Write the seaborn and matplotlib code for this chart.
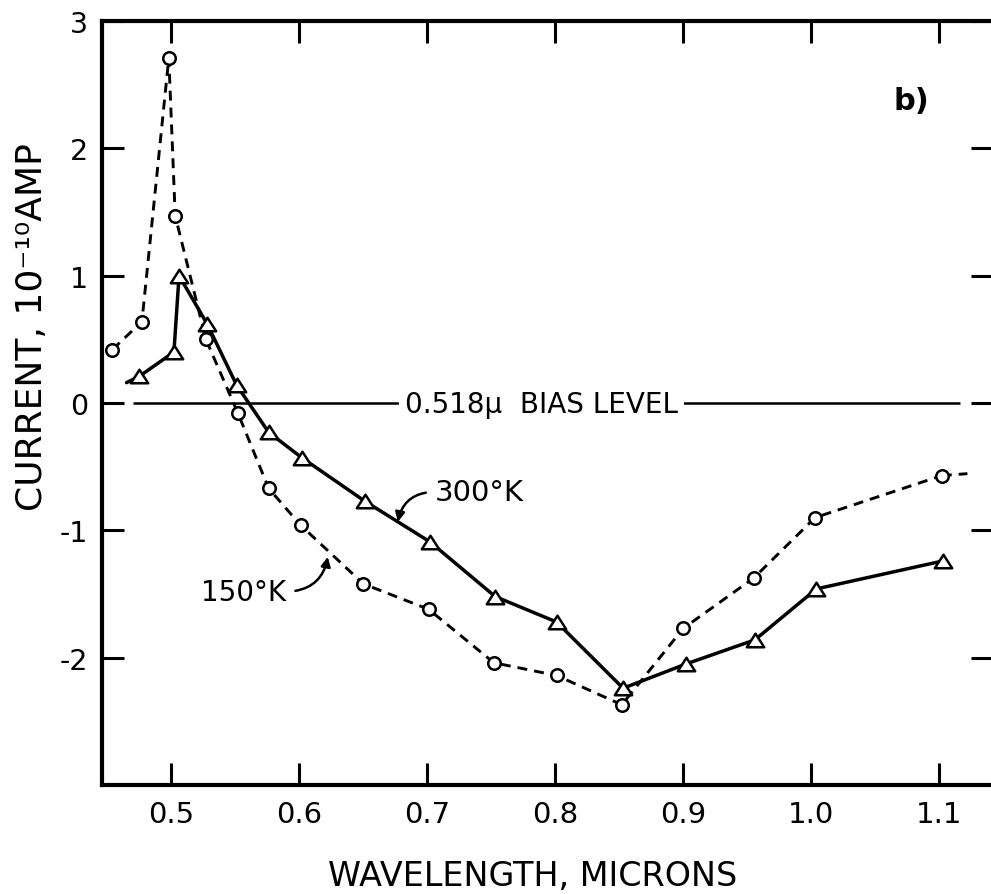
import matplotlib
matplotlib.use("Agg")
import matplotlib.pyplot as plt
from matplotlib.path import Path
import seaborn as sns

# ---- data ----
wl_150 = [0.454, 0.477, 0.498, 0.503, 0.527, 0.552, 0.576, 0.601, 0.650, 0.701,
          0.752, 0.801, 0.852, 0.900, 0.955, 1.003, 1.102]
cur_150 = [0.42, 0.64, 2.71, 1.47, 0.50, -0.08, -0.67, -0.96, -1.42, -1.62,
           -2.04, -2.14, -2.37, -1.77, -1.375, -0.90, -0.57]
wl_300 = [0.475, 0.502, 0.506, 0.528, 0.551, 0.576, 0.602, 0.651, 0.702, 0.753,
          0.801, 0.853, 0.902, 0.956, 1.004, 1.103]
cur_300 = [0.21, 0.40, 1.00, 0.62, 0.14, -0.23, -0.43, -0.77, -1.09, -1.52,
           -1.72, -2.24, -2.05, -1.86, -1.46, -1.24]
# short hand-drawn line tails beyond the end markers
tail_300_x = [0.465, 0.475]
tail_300_y = [0.16, 0.21]
tail_150_x = [1.102, 1.122]
tail_150_y = [-0.57, -0.555]

x_ticks = [0.5, 0.6, 0.7, 0.8, 0.9, 1.0, 1.1]
x_tick_labels = ["0.5", "0.6", "0.7", "0.8", "0.9", "1.0", "1.1"]
y_ticks = [-2, -1, 0, 1, 2, 3]
y_tick_labels = ["-2", "-1", "0", "1", "2", "3"]
bias_range = [0.47, 1.116]

sns.set_style("ticks")
plt.rcParams["font.family"] = ["DejaVu Sans"]
plt.rcParams["text.color"] = "black"
plt.rcParams["axes.labelcolor"] = "black"

W, H = 991, 895
fig = plt.figure(figsize=(W / 100, H / 100), dpi=100)
ax = fig.add_axes([102 / W, 109 / H, 891 / W, 764 / H])

tri = Path([(-1, -0.78), (1, -0.78), (0, 0.78), (-1, -0.78)],
           [Path.MOVETO, Path.LINETO, Path.LINETO, Path.CLOSEPOLY])

# zero / bias level line
ax.hlines(0, bias_range[0], bias_range[1], color="black", lw=1.8, zorder=1)

# 150 K: dashed with open circles
sns.lineplot(x=wl_150, y=cur_150, ax=ax, color="black", lw=2.1,
             linestyle=(0, (3.4, 2.4)), marker="o", markersize=9,
             markerfacecolor="white", markeredgecolor="black",
             markeredgewidth=1.8, zorder=3)
sns.lineplot(x=tail_150_x, y=tail_150_y, ax=ax, color="black", lw=2.1,
             linestyle=(0, (3.4, 2.4)), zorder=2)

# 300 K: solid with open triangles
sns.lineplot(x=wl_300, y=cur_300, ax=ax, color="black", lw=2.5,
             linestyle="-", marker=tri, markersize=12.5,
             markerfacecolor="white", markeredgecolor="black",
             markeredgewidth=1.8, zorder=4)
sns.lineplot(x=tail_300_x, y=tail_300_y, ax=ax, color="black", lw=2.5,
             linestyle="-", zorder=2)

ax.set_xlim(0.4458, 1.142)
ax.set_ylim(-3, 3)
ax.set_xticks(x_ticks)
ax.set_xticklabels(x_tick_labels)
ax.set_yticks(y_ticks)
ax.set_yticklabels(y_tick_labels)

for s in ax.spines.values():
    s.set_linewidth(3)
    s.set_color("black")

ax.tick_params(axis="both", direction="in", length=16, width=2.2,
               top=True, right=True, colors="black")
ax.tick_params(axis="x", pad=11, labelsize=21)
ax.tick_params(axis="y", pad=10, labelsize=20.5)

ax.set_xlabel("WAVELENGTH, MICRONS", fontsize=24)
ax.xaxis.set_label_coords(0.4837, -0.0969)
ax.set_ylabel("CURRENT, 10\u207b\u00b9\u2070AMP", fontsize=26)
ax.yaxis.set_label_coords(-0.060, 0.601)

ax.text(0.7892, -0.07, "0.518\u03bc  BIAS LEVEL", ha="center", va="baseline",
        fontsize=20, zorder=5,
        bbox=dict(facecolor="white", edgecolor="none", pad=4))

ax.text(1.078, 2.376, "b)", ha="center", va="center", fontsize=22,
        fontweight="bold")

ax.annotate("300\u00b0K", xy=(0.677, -0.933), xytext=(0.7057, -0.698),
            ha="left", va="center", fontsize=21,
            arrowprops=dict(arrowstyle="-|>", color="black", lw=1.8,
                            connectionstyle="arc3,rad=0.4", relpos=(0, 0.5),
                            shrinkA=4, shrinkB=0, mutation_scale=14))
ax.annotate("150\u00b0K", xy=(0.6222, -1.208), xytext=(0.590, -1.482),
            ha="right", va="center", fontsize=20,
            arrowprops=dict(arrowstyle="-|>", color="black", lw=1.8,
                            connectionstyle="arc3,rad=0.4", relpos=(1, 0.5),
                            shrinkA=4, shrinkB=0, mutation_scale=14))

fig.savefig("out.png", dpi=100)
